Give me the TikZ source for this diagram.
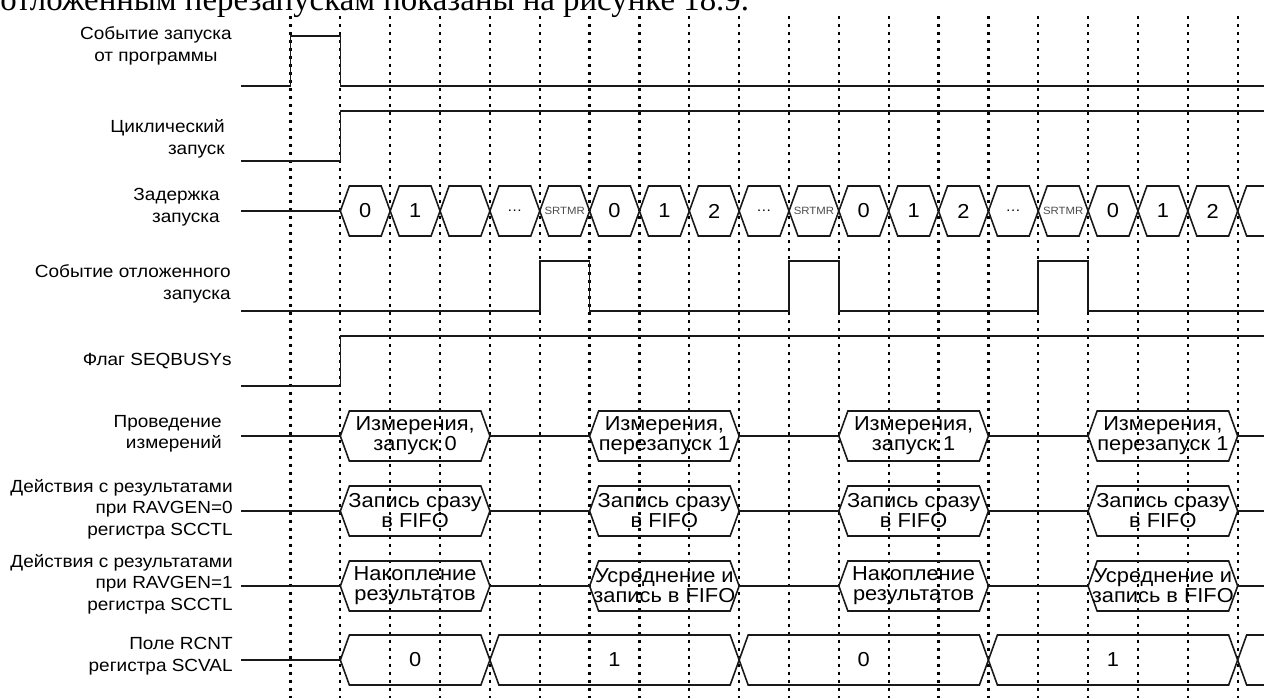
\documentclass[tikz,border=0pt]{standalone}
\usepackage{fontspec}
\setmainfont[FakeStretch=1.08]{Liberation Sans}
\newfontfamily\bookfont{Liberation Serif}

% tick k of the time grid (picture units are pixels)
\newcommand{\tk}[1]{290.5+49.85*#1}
% bus value between ticks #2 and #3, centre line #4
\newcommand{\bushex}[6][]{%
  \draw[sig] ({\tk{#2}},{#4}) -- ({\tk{#2}+9},{#4-25}) -- ({\tk{#3}-9},{#4-25})
    -- ({\tk{#3}},{#4}) -- ({\tk{#3}-9},{#4+25}) -- ({\tk{#2}+9},{#4+25}) -- cycle;
  \node[bustext,#1] (#5) at ({(\tk{#2}+\tk{#3})/2},{#4}) {#6};
}

\begin{document}
\begin{tikzpicture}[
  x=0.02cm, y=-0.02cm,
  every node/.style={font=\fontsize{10}{12.2}\selectfont, inner sep=0pt},
  sig/.style={line width=0.9pt, draw=black!90, line join=miter},
  tick/.style={line width=1.3pt, draw=black, dash pattern=on 1.7pt off 2.85pt},
  lbl/.style={anchor=east, align=right},
  lblc/.style={anchor=east, align=center},
  bustext/.style={align=center, font=\fontsize{11.5}{11.4}\selectfont},
  digit/.style={font=\fontsize{11.5}{13}\selectfont},
  tiny/.style={font=\fontsize{6}{7}\selectfont, text=black!70},
  dots/.style={font=\fontsize{8}{9}\selectfont},
]
\useasboundingbox (0,0) rectangle (1264,698);
\clip (0,0) rectangle (1264,698);

% ---- Page text above the figure ----
\node[anchor=base west, font=\bookfont\fontsize{18.7}{20}\selectfont] (pagetext) at (0,10)
  {отложенным перезапускам показаны на рисунке 18.9.};

% ---- Time grid ----
\foreach \k in {0,...,19}
  \draw[tick] ({\tk{\k}},16) -- ({\tk{\k}},698);

% ---- Signal names ----
\node[lblc] (swstart) at (232,46)  {Событие запуска\\от программы};
\node[lbl]  (cyclic)  at (225,139) {Циклический\\запуск};
\node[lbl]  (delay)   at (220,207) {Задержка\\запуска};
\node[lbl]  (restart) at (231,284) {Событие отложенного\\запуска};
\node[lbl]  (busy)    at (232,361) {Флаг SEQBUSYs};
\node[lbl]  (meas)    at (222,434) {Проведение\\измерений};
\node[lbl]  (ravg0)   at (233,509) {Действия с результатами\\при RAVGEN=0\\регистра SCCTL};
\node[lbl]  (ravg1)   at (233,584) {Действия с результатами\\при RAVGEN=1\\регистра SCCTL};
\node[lbl]  (rcnt)    at (233,656) {Поле RCNT\\регистра SCVAL};

% ---- Single-bit waveforms ----
\draw[sig] (241,86) -- ({\tk{0}},86) -- ({\tk{0}},36) -- ({\tk{1}},36) -- ({\tk{1}},86) -- (1264,86);
\draw[sig] (241,161) -- ({\tk{1}},161) -- ({\tk{1}},111) -- (1264,111);
\draw[sig] (241,311) -- ({\tk{5}},311) -- ({\tk{5}},261) -- ({\tk{6}},261) -- ({\tk{6}},311)
  -- ({\tk{10}},311) -- ({\tk{10}},261) -- ({\tk{11}},261) -- ({\tk{11}},311)
  -- ({\tk{15}},311) -- ({\tk{15}},261) -- ({\tk{16}},261) -- ({\tk{16}},311) -- (1264,311);
\draw[sig] (241,386) -- ({\tk{1}},386) -- ({\tk{1}},336) -- (1264,336);

% ---- Delay counter ----
\draw[sig] (241,211) -- ({\tk{1}},211);
\bushex[digit]{1}{2}{211}{dla}{0}
\bushex[digit]{2}{3}{211}{dlb}{1}
\bushex{3}{4}{211}{dlc}{}
\bushex[dots]{4}{5}{211}{dld}{\ldots}
\bushex[tiny]{5}{6}{211}{dle}{SRTMR}
\bushex[digit]{6}{7}{211}{dlf}{0}
\bushex[digit]{7}{8}{211}{dlg}{1}
\bushex[digit]{8}{9}{211}{dlh}{2}
\bushex[dots]{9}{10}{211}{dli}{\ldots}
\bushex[tiny]{10}{11}{211}{dlj}{SRTMR}
\bushex[digit]{11}{12}{211}{dlk}{0}
\bushex[digit]{12}{13}{211}{dll}{1}
\bushex[digit]{13}{14}{211}{dlm}{2}
\bushex[dots]{14}{15}{211}{dln}{\ldots}
\bushex[tiny]{15}{16}{211}{dlo}{SRTMR}
\bushex[digit]{16}{17}{211}{dlp}{0}
\bushex[digit]{17}{18}{211}{dlq}{1}
\bushex[digit]{18}{19}{211}{dlr}{2}
\draw[sig] (1270,186) -- ({\tk{19}+9},186) -- ({\tk{19}},211) -- ({\tk{19}+9},236) -- (1270,236);

% ---- Measurements and result handling ----
\foreach \yc in {436,511,586}
  \draw[sig] (241,\yc) -- ({\tk{1}},\yc) ({\tk{4}},\yc) -- ({\tk{6}},\yc)
    ({\tk{9}},\yc) -- ({\tk{11}},\yc) ({\tk{14}},\yc) -- ({\tk{16}},\yc) ({\tk{19}},\yc) -- (1264,\yc);

\bushex{1}{4}{436}{msa}{Измерения,\\запуск 0}
\bushex{6}{9}{436}{msb}{Измерения,\\перезапуск 1}
\bushex{11}{14}{436}{msc}{Измерения,\\запуск 1}
\bushex{16}{19}{436}{msd}{Измерения,\\перезапуск 1}

\bushex{1}{4}{511}{rza}{Запись сразу\\в FIFO}
\bushex{6}{9}{511}{rzb}{Запись сразу\\в FIFO}
\bushex{11}{14}{511}{rzc}{Запись сразу\\в FIFO}
\bushex{16}{19}{511}{rzd}{Запись сразу\\в FIFO}

\bushex{1}{4}{586}{roa}{Накопление\\результатов}
\bushex{6}{9}{586}{rob}{Усреднение и\\запись в FIFO}
\bushex{11}{14}{586}{roc}{Накопление\\результатов}
\bushex{16}{19}{586}{rod}{Усреднение и\\запись в FIFO}

% ---- RCNT field ----
\draw[sig] (241,660) -- ({\tk{1}},660);
\bushex[digit]{1}{4}{660}{rca}{0}
\bushex[digit]{4}{9}{660}{rcb}{1}
\bushex[digit]{9}{14}{660}{rcc}{0}
\bushex[digit]{14}{19}{660}{rcd}{1}
\draw[sig] (1270,635) -- ({\tk{19}+9},635) -- ({\tk{19}},660) -- ({\tk{19}+9},685) -- (1270,685);

\end{tikzpicture}
\end{document}
